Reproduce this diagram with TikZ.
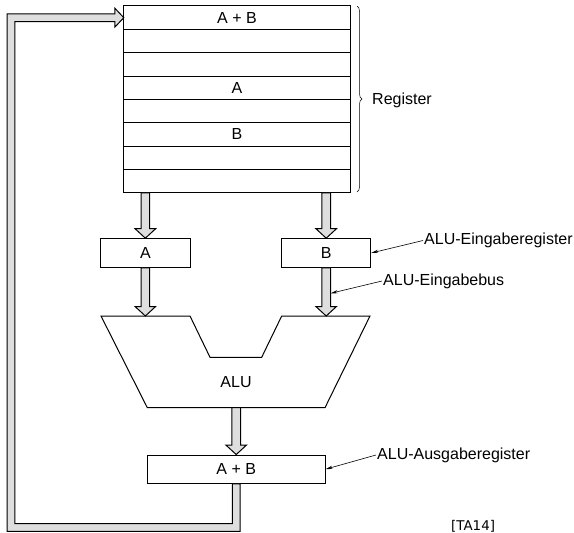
\documentclass[tikz,border=0pt]{standalone}
\usepackage{fontspec}
\setmainfont{Liberation Sans}
\newfontfamily\tafont{DejaVu Sans}
\usetikzlibrary{calc,arrows.meta,decorations.pathreplacing}
\definecolor{pipegray}{HTML}{DEDEDE}
\newcommand{\fatdown}[2]{%
  \draw[pipe] ([shift={(-4.3,0)}]#1) -- ([shift={(-4.3,-9.5)}]#2) -- ([shift={(-10.3,-9.5)}]#2) -- (#2)
    -- ([shift={(10.3,-9.5)}]#2) -- ([shift={(4.3,-9.5)}]#2) -- ([shift={(4.3,0)}]#1) -- cycle;}
\begin{document}
\begin{tikzpicture}[x=1pt,y=-1pt,
  every node/.style={font=\fontsize{16}{19}\selectfont},
  regrow/.style={minimum width=226pt, minimum height=23.33pt, inner sep=0pt, anchor=center},
  box/.style={draw, line width=1pt, inner sep=0pt, anchor=center},
  pipe/.style={draw, line width=1pt, fill=pipegray, line join=miter},
  lbl/.style={anchor=west, inner sep=1pt},
  ptr/.style={line width=0.6pt, -{Stealth[length=7pt,width=3.2pt]}}]
\useasboundingbox (0,0) rectangle (574,533);
% register file
\node[regrow] (reg1) at (237,17.67) {A + B};
\node[regrow] (reg2) at (237,41.0) {};
\node[regrow] (reg3) at (237,64.33) {};
\node[regrow] (reg4) at (237,87.67) {A};
\node[regrow] (reg5) at (237,111.0) {};
\node[regrow] (reg6) at (237,134.33) {B};
\node[regrow] (reg7) at (237,157.67) {};
\node[regrow] (reg8) at (237,181.0) {};
\draw[line width=1pt] (reg1.north west) rectangle (reg8.south east);
\foreach \i in {1,...,7}{\draw[line width=1pt] (reg\i.south west) -- (reg\i.south east);}
\draw[decorate, decoration={brace, amplitude=5pt}, line width=0.5pt] (357,6) -- (357,192);
\node[lbl] (reglbl) at (371,100) {Register};
% ALU input registers
\node[box, minimum width=89.3pt, minimum height=28.6pt] (ina) at (145.35,253) {A};
\node[box, minimum width=89pt, minimum height=28.6pt] (inb) at (326.2,253) {B};
% ALU
\coordinate (aluTop) at (0,316);
\coordinate (aluBot) at (0,407.7);
\draw[line width=1pt, line join=miter] (101,316) -- (190,316) -- (210,357.3) -- (261.7,357.3) -- (281.7,316)
  -- (370,316) -- (325,407.7) -- (147.3,407.7) -- cycle;
\node (alu) at (236,382) {ALU};
% output register
\node[box, minimum width=177.7pt, minimum height=28.3pt] (out) at (236.2,469.2) {A + B};
% fat arrows
\coordinate (a1s) at (reg8.south -| ina.north);
\coordinate (b1s) at (reg8.south -| inb.north);
\coordinate (a2e) at (ina.south |- aluTop);
\coordinate (b2e) at (inb.south |- aluTop);
\coordinate (o1s) at (out.north |- aluBot);
\fatdown{a1s}{ina.north}
\fatdown{b1s}{inb.north}
\fatdown{ina.south}{a2e}
\fatdown{inb.south}{b2e}
\fatdown{o1s}{out.north}
% feedback loop
\coordinate (lb) at (11,527.5);
\coordinate (c1) at (out.south |- lb);
\coordinate (c2) at (lb);
\coordinate (c3) at (lb |- reg1.west);
\coordinate (c4) at (reg1.west);
\draw[pipe] ([shift={(3.9,0)}]out.south) -- ([shift={(3.9,3.9)}]c1) -- ([shift={(-3.9,3.9)}]c2)
  -- ([shift={(-3.9,-3.9)}]c3) -- ([shift={(-9,-3.9)}]c4) -- ([shift={(-9,-9.5)}]c4) -- (c4)
  -- ([shift={(-9,9.5)}]c4) -- ([shift={(-9,3.9)}]c4) -- ([shift={(3.9,3.9)}]c3)
  -- ([shift={(3.9,-3.9)}]c2) -- ([shift={(-3.9,-3.9)}]c1) -- ([shift={(-3.9,0)}]out.south) -- cycle;
% labels
\node[lbl] (lab1) at (423,240.5) {ALU-Eingaberegister};
\node[lbl] (lab2) at (382,281) {ALU-Eingabebus};
\node[lbl] (lab3) at (376,455) {ALU-Ausgaberegister};
\coordinate (busB) at (330.7,293.3);
\draw[ptr] (lab1.west) -- (inb.east);
\draw[ptr] (lab2.west) -- (busB);
\draw[ptr] (lab3.west) -- (out.east);
\node[anchor=base west, inner sep=0pt, font=\tafont\fontsize{13.4}{16}\selectfont] (ta) at (451,530.2) {[TA14]};
\end{tikzpicture}
\end{document}
